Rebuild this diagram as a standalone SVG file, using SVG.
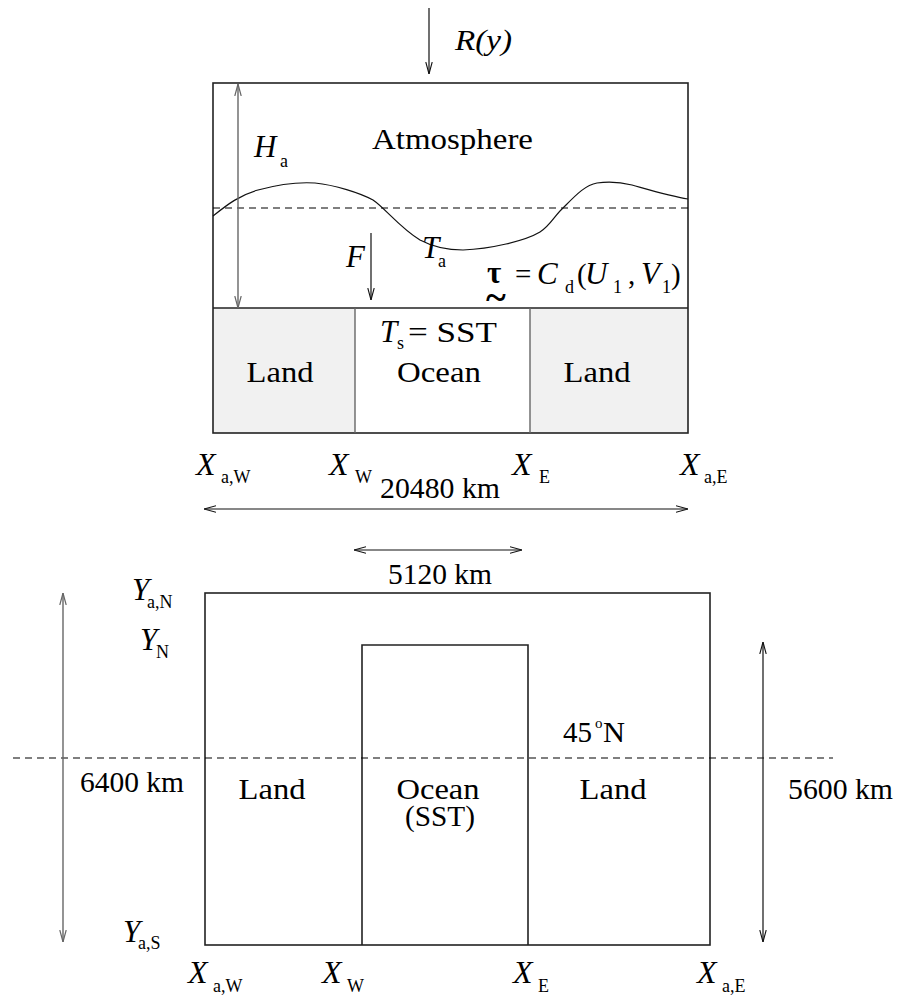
<svg xmlns="http://www.w3.org/2000/svg" width="899" height="999" viewBox="0 0 899 999">
<style>
.box{fill:none;stroke:#222;stroke-width:1.6}
.ln{stroke:#111;stroke-width:1.2;fill:none}
.gr{stroke:#666;stroke-width:1.4;fill:none}
.dash{stroke:#000;stroke-width:1.1;stroke-dasharray:7,5;fill:none}
</style>
<defs>
<marker id="ah" viewBox="0 0 12 8" refX="12" refY="4" markerWidth="12" markerHeight="8" markerUnits="userSpaceOnUse" orient="auto-start-reverse">
<path d="M0,0.8 L12,4 L0,7.2" fill="none" stroke="#111" stroke-width="1.1"/>
</marker>
<marker id="ahg" viewBox="0 0 12 8" refX="12" refY="4" markerWidth="12" markerHeight="8" markerUnits="userSpaceOnUse" orient="auto-start-reverse">
<path d="M0,0.8 L12,4 L0,7.2" fill="none" stroke="#666" stroke-width="1.2"/>
</marker>
</defs>

<g id="side-view">
<rect x="213" y="308" width="142" height="125" fill="#f1f1f1"/>
<rect x="530" y="308" width="158" height="125" fill="#f1f1f1"/>
<rect class="box" x="213" y="83" width="475" height="350"/>
<line class="box" x1="213" y1="308" x2="688" y2="308"/>
<line class="gr" x1="355" y1="308" x2="355" y2="433"/>
<line class="gr" x1="530" y1="308" x2="530" y2="433"/>
<line class="dash" x1="213" y1="208" x2="688" y2="208"/>
<path class="ln" d="M213,216 C228,204 240,195 258,190 C280,184 300,182 315,183 C335,185 360,193 373,200 C385,208 400,228 420,240 C435,248 450,250 463,250 C490,249 525,241 540,232 C550,226 555,215 563,208 C575,196 585,185 597,183 C610,181 620,182 632,185 C650,190 670,196 688,199"/>
</g>

<g id="plan-view">
<rect class="box" x="205" y="593" width="505" height="352"/>
<polyline class="box" points="362,945 362,645 528,645 528,945"/>
<line class="dash" x1="13" y1="758" x2="833" y2="758" stroke-dasharray="8,5"/>
</g>

<g id="connectors">
<line class="ln" x1="429" y1="8" x2="429" y2="74" marker-end="url(#ah)"/>
<line class="gr" x1="238" y1="84" x2="238" y2="308" marker-start="url(#ahg)" marker-end="url(#ahg)"/>
<line class="ln" x1="371" y1="233" x2="371" y2="300" marker-end="url(#ah)"/>
<line class="ln" x1="204" y1="509" x2="688" y2="509" marker-start="url(#ah)" marker-end="url(#ah)"/>
<line class="ln" x1="354" y1="550" x2="522" y2="550" marker-start="url(#ah)" marker-end="url(#ah)"/>
<line class="gr" x1="63" y1="593" x2="63" y2="942" marker-start="url(#ahg)" marker-end="url(#ahg)"/>
<line class="ln" x1="763" y1="642" x2="763" y2="942" marker-start="url(#ah)" marker-end="url(#ah)"/>
</g>

<g id="labels-side" font-family="Liberation Serif, serif" fill="#000">
<text x="455" y="50" font-size="29" font-style="italic" textLength="57" lengthAdjust="spacingAndGlyphs">R(y)</text>
<text x="372" y="149" font-size="29" textLength="161" lengthAdjust="spacingAndGlyphs">Atmosphere</text>
<text x="254" y="157" font-size="31" font-style="italic">H</text>
<text x="280" y="167" font-size="18">a</text>
<text x="346" y="267" font-size="31" font-style="italic">F</text>
<text x="422" y="258" font-size="31" font-style="italic">T</text>
<text x="438" y="267" font-size="18">a</text>
<text x="487" y="283" font-size="31" font-weight="bold">τ</text>
<text x="486" y="310" font-size="38" font-weight="bold">~</text>
<text x="515" y="284" font-size="29">=</text>
<text x="537" y="284" font-size="31" font-style="italic">C</text>
<text x="565" y="293" font-size="18">d</text>
<text x="577" y="284" font-size="29">(</text>
<text x="585" y="284" font-size="31" font-style="italic">U</text>
<text x="613" y="293" font-size="18">1</text>
<text x="628" y="284" font-size="29">,</text>
<text x="641" y="284" font-size="31" font-style="italic">V</text>
<text x="662" y="293" font-size="18">1</text>
<text x="671" y="284" font-size="29">)</text>
<text x="280" y="382" font-size="29" text-anchor="middle" textLength="67" lengthAdjust="spacingAndGlyphs">Land</text>
<text x="439" y="382" font-size="29" text-anchor="middle" textLength="84" lengthAdjust="spacingAndGlyphs">Ocean</text>
<text x="597" y="382" font-size="29" text-anchor="middle" textLength="67" lengthAdjust="spacingAndGlyphs">Land</text>
<text x="380" y="342" font-size="31" font-style="italic">T</text>
<text x="397" y="349" font-size="18">s</text>
<text x="408" y="342" font-size="29" textLength="89" lengthAdjust="spacingAndGlyphs">= SST</text>
</g>

<g id="labels-x-top" font-family="Liberation Serif, serif" fill="#000">
<text x="196" y="475" font-size="32" font-style="italic">X</text>
<text x="221" y="483" font-size="18">a,W</text>
<text x="329" y="475" font-size="32" font-style="italic">X</text>
<text x="355" y="483" font-size="18">W</text>
<text x="512" y="475" font-size="32" font-style="italic">X</text>
<text x="539" y="483" font-size="18">E</text>
<text x="680" y="475" font-size="32" font-style="italic">X</text>
<text x="704" y="483" font-size="18">a,E</text>
<text x="380" y="498" font-size="29" textLength="120" lengthAdjust="spacingAndGlyphs">20480 km</text>
<text x="388" y="584" font-size="29" textLength="104" lengthAdjust="spacingAndGlyphs">5120 km</text>
</g>

<g id="labels-plan" font-family="Liberation Serif, serif" fill="#000">
<text x="132" y="600" font-size="31" font-style="italic">Y</text>
<text x="147" y="608" font-size="18">a,N</text>
<text x="140" y="650" font-size="31" font-style="italic">Y</text>
<text x="156" y="658" font-size="18">N</text>
<text x="123" y="942" font-size="31" font-style="italic">Y</text>
<text x="138" y="949" font-size="18">a,S</text>
<text x="80" y="792" font-size="29" textLength="104" lengthAdjust="spacingAndGlyphs">6400 km</text>
<text x="788" y="799" font-size="29" textLength="105" lengthAdjust="spacingAndGlyphs">5600 km</text>
<text x="272" y="799" font-size="29" text-anchor="middle" textLength="67" lengthAdjust="spacingAndGlyphs">Land</text>
<text x="613" y="799" font-size="29" text-anchor="middle" textLength="67" lengthAdjust="spacingAndGlyphs">Land</text>
<text x="438" y="799" font-size="29" text-anchor="middle" textLength="83" lengthAdjust="spacingAndGlyphs">Ocean</text>
<text x="440" y="826" font-size="29" text-anchor="middle" textLength="70" lengthAdjust="spacingAndGlyphs">(SST)</text>
<text x="563" y="742" font-size="29" textLength="29" lengthAdjust="spacingAndGlyphs">45</text>
<text x="595" y="728" font-size="15">o</text>
<text x="603" y="742" font-size="29" textLength="22" lengthAdjust="spacingAndGlyphs">N</text>
<text x="188" y="983" font-size="32" font-style="italic">X</text>
<text x="213" y="992" font-size="18">a,W</text>
<text x="322" y="983" font-size="32" font-style="italic">X</text>
<text x="347" y="992" font-size="18">W</text>
<text x="513" y="983" font-size="32" font-style="italic">X</text>
<text x="538" y="992" font-size="18">E</text>
<text x="697" y="983" font-size="32" font-style="italic">X</text>
<text x="722" y="992" font-size="18">a,E</text>
</g>
</svg>
